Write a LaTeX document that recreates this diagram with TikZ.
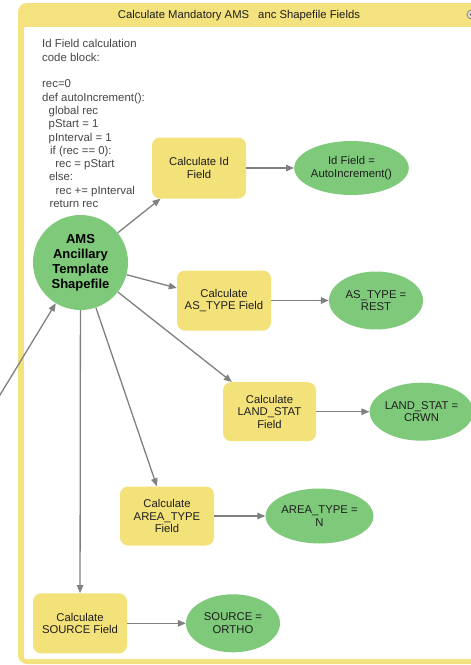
\documentclass[tikz,border=0pt]{standalone}
\usepackage{fontspec}
\setmainfont{Liberation Sans}
\usetikzlibrary{arrows.meta,shapes.geometric}
\definecolor{boxyellow}{RGB}{243,225,122}
\definecolor{frameyellow}{RGB}{243,226,125}
\definecolor{nodegreen}{RGB}{126,202,122}
\definecolor{linegray}{RGB}{128,128,128}
\definecolor{codegray}{RGB}{70,70,70}
\definecolor{txtdark}{RGB}{30,30,30}
\begin{document}
\begin{tikzpicture}[x=1pt,y=-1pt,
  proc/.style={fill=boxyellow, rounded corners=8pt, minimum width=94pt, minimum height=60pt,
    inner sep=1pt, align=center, text=txtdark, font=\fontsize{11.3}{12.6}\selectfont},
  val/.style={ellipse, fill=nodegreen, inner sep=0pt, minimum width=94pt, minimum height=57pt,
    align=center, text=txtdark, font=\fontsize{11.3}{12.6}\selectfont},
  conn/.style={draw=linegray, line width=1.3pt, -{Triangle[length=8pt,width=6.5pt]}}]
\clip (0,0) rectangle (471,665);
\fill[white] (0,0) rectangle (471,665);
% group frame
\fill[frameyellow, rounded corners=9pt] (18,3) rectangle (495,664);
\fill[white, rounded corners=2pt] (24,27) rectangle (495,659);
\node[text=txtdark, font=\fontsize{11.3}{13}\selectfont, inner sep=0pt] (title) at (239,16)
  {Calculate Mandatory AMS\hspace*{9pt}anc Shapefile Fields};
\node[circle, draw=gray, fill=gray!25, line width=0.8pt, minimum size=9pt, inner sep=0pt] (icon) at (471.5,14.5) {};
\fill[black!65] (icon.center) circle (1.8);
% code block
\node[anchor=north west, inner sep=0pt, align=left, text=codegray,
  font=\fontsize{11.4}{13.3}\selectfont] (code) at (42,39.5)
  {Id Field calculation\\
   code block:\\
   \mbox{}\\
   rec=0\\
   def autoIncrement():\\
   \hspace*{6.5pt}global rec\\
   \hspace*{6.5pt}pStart = 1\\
   \hspace*{6.5pt}pInterval = 1\\
   \hspace*{8pt}if (rec == 0):\\
   \hspace*{13.2pt}rec = pStart\\
   \hspace*{6.8pt}else:\\
   \hspace*{13.5pt}rec += pInterval\\
   \hspace*{7.3pt}return rec};
% main input
\node[circle, fill=nodegreen, minimum size=95pt, inner sep=0pt, align=center, text=black,
  font=\bfseries\fontsize{13}{15}\selectfont] (ams) at (80.5,262.5)
  {AMS\\Ancillary\\Template\\Shapefile};
% processes
\node[proc, minimum height=61pt] (idbox) at (199,168) {Calculate Id\\Field};
\node[val, minimum width=95pt, minimum height=54pt] (idval) at (351.5,168) {Id Field =\\AutoIncrement()};
\node[proc] (asbox) at (224,300.5) {Calculate\\AS\_TYPE Field};
\node[val, minimum height=58pt] (asval) at (376,300.5) {AS\_TYPE =\\REST};
\node[proc, minimum width=93pt, minimum height=59pt] (landbox) at (269.5,411.7) {Calculate\\LAND\_STAT\\Field};
\node[val, minimum width=93pt, minimum height=58pt] (landval) at (421.5,411.7) {LAND\_STAT =\\CRWN};
\node[proc, minimum height=59pt] (areabox) at (167,516) {Calculate\\AREA\_TYPE\\Field};
\node[val, minimum width=95pt, minimum height=55pt] (areaval) at (319.5,516) {AREA\_TYPE =\\N};
\node[proc] (srcbox) at (80,623.3) {Calculate\\SOURCE Field};
\node[val, minimum height=58pt] (srcval) at (233,623.3) {SOURCE =\\ORTHO};
% connectors
\coordinate (ext) at (-40,460.8);
\draw[conn] (ext) -- (ams);
\draw[conn] (ams) -- (idbox);
\draw[conn] (ams) -- (asbox);
\draw[conn] (ams) -- (landbox);
\draw[conn] (ams) -- (areabox);
\draw[conn] (ams) -- (srcbox);
\draw[conn] (idbox) -- (idval);
\draw[conn] (asbox) -- (asval);
\draw[conn] (landbox) -- (landval);
\draw[conn] (areabox) -- (areaval);
\draw[conn] (srcbox) -- (srcval);
\end{tikzpicture}
\end{document}
